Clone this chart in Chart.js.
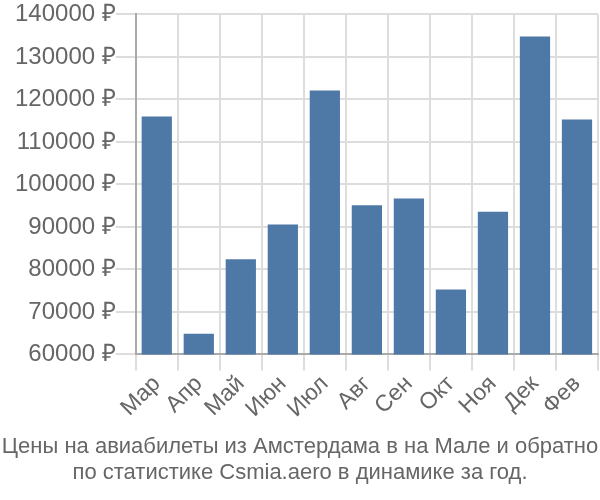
<html lang="ru">
<head>
    <meta charset="UTF-8">
    <title>Цены</title>
    <script src="https://cdn.jsdelivr.net/npm/chart.js"></script>
    <style>
        body { margin: 0; background: #fff; }
        #wrap { position: relative; width: 600px; height: 500px; }
        #caption {
            position: absolute; left: 0; top: 433px; width: 600px;
            font-family: 'Liberation Sans', Arial, sans-serif; font-size: 22px;
            line-height: 26px; color: #666; text-align: center; white-space: nowrap;
        }
    </style>
</head>
<body>
<div id="wrap">
    <canvas id="priceChart" width="600" height="500"></canvas>
    <div id="caption"></div>
</div>
<script>
    // Месяцы и цены
    var months = ['Мар', 'Апр', 'Май', 'Июн', 'Июл', 'Авг', 'Сен', 'Окт', 'Ноя', 'Дек', 'Фев'];
    var prices = [116000, 64900, 82400, 90600, 122100, 95100, 96700, 75300, 93600, 134800, 115300];
    var titleLines = ['Цены на авиабилеты из Амстердама в на Мале и обратно', 'по статистике Csmia.aero в динамике за год.'];

    var cap = document.getElementById('caption');
    titleLines.forEach(function (line) {
        var row = document.createElement('div');
        row.textContent = line;
        cap.appendChild(row);
    });

    var ctx = document.getElementById('priceChart').getContext('2d');
    var priceChart = new Chart(ctx, {
        type: 'bar',
        data: {
            labels: months,
            datasets: [{
                data: prices,
                backgroundColor: '#4e79a7',
                barPercentage: 0.72,
                categoryPercentage: 1
            }]
        },
        options: {
            responsive: false,
            animation: false,
            layout: { padding: { left: 15, right: 2, top: 4, bottom: 77 } },
            plugins: {
                legend: { display: false },
                tooltip: { enabled: false }
            },
            scales: {
                x: {
                    grid: { color: '#ddd', lineWidth: 2, tickLength: 16, offset: true },
                    border: { color: '#aaa', width: 2 },
                    ticks: {
                        color: '#666',
                        font: { family: 'Liberation Sans', size: 23 },
                        maxRotation: 45,
                        minRotation: 45,
                        autoSkip: false,
                        padding: 0
                    }
                },
                y: {
                    min: 60000,
                    max: 140000,
                    grid: { color: '#ddd', lineWidth: 2, tickLength: 20 },
                    border: { color: '#aaa', width: 2 },
                    ticks: {
                        stepSize: 10000,
                        color: '#666',
                        font: { family: 'Liberation Sans', size: 24 },
                        padding: 0,
                        callback: function (v) { return v + ' ₽'; }
                    }
                }
            }
        }
    });
</script>
</body>
</html>
